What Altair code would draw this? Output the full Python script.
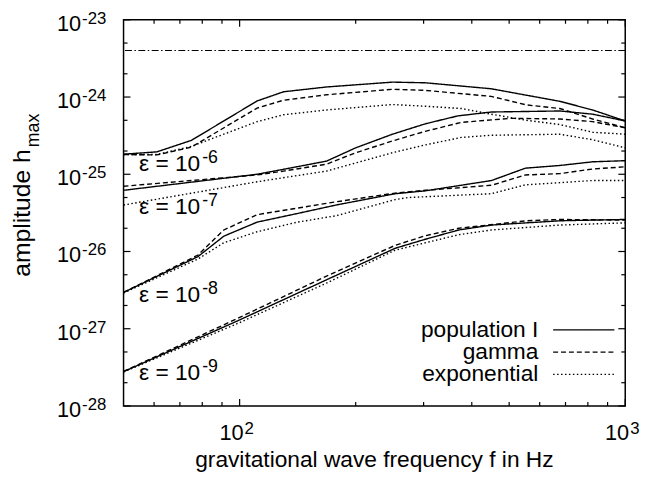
import altair as alt
import pandas as pd

# ---------------- data ----------------
models = ["population I", "gamma", "exponential"]

# epsilon = 1e-6
f_e6_pop = [50, 61, 75, 111, 130, 168, 249, 303, 449, 677, 823, 1000]
h_e6_pop = [1.82e-25, 1.95e-25, 2.75e-25, 8.9e-25, 1.17e-24, 1.35e-24, 1.56e-24, 1.53e-24, 1.28e-24, 8.8e-25, 6.8e-25, 4.9e-25]
f_e6_gam = [50, 61, 75, 111, 130, 168, 249, 303, 449, 555, 677, 823, 1000]
h_e6_gam = [1.8e-25, 1.78e-25, 2.25e-25, 7.2e-25, 9.1e-25, 1.07e-24, 1.26e-24, 1.22e-24, 1.02e-24, 7.9e-25, 7.1e-25, 5.2e-25, 4.0e-25]
f_e6_exp = [50, 61, 75, 111, 130, 168, 249, 303, 376, 449, 555, 677, 823, 1000]
h_e6_exp = [1.8e-25, 1.8e-25, 2.3e-25, 4.8e-25, 5.9e-25, 6.8e-25, 8.0e-25, 7.6e-25, 7.1e-25, 6.0e-25, 5.0e-25, 4.4e-25, 3.5e-25, 3.3e-25]

# epsilon = 1e-7
f_e7_pop = [50, 111, 130, 168, 200, 249, 303, 368, 449, 677, 823, 1000]
h_e7_pop = [6.2e-26, 1.0e-25, 1.16e-25, 1.48e-25, 2.2e-25, 3.3e-25, 4.5e-25, 5.7e-25, 6.4e-25, 6.6e-25, 6.0e-25, 4.9e-25]
f_e7_gam = [50, 111, 130, 168, 200, 249, 303, 376, 505, 677, 823, 1000]
h_e7_gam = [7.0e-26, 9.8e-26, 1.1e-25, 1.35e-25, 1.9e-25, 2.7e-25, 3.6e-25, 4.7e-25, 5.3e-25, 5.2e-25, 4.8e-25, 4.0e-25]
f_e7_exp = [50, 111, 168, 249, 303, 376, 449, 677, 823, 1000]
h_e7_exp = [4.0e-26, 8.0e-26, 1.1e-25, 1.9e-25, 2.4e-25, 3.0e-25, 3.2e-25, 3.3e-25, 2.8e-25, 2.2e-25]

# epsilon = 1e-8
f_e8_pop = [50, 78, 91, 111, 141, 178, 253, 303, 450, 551, 677, 823, 1000]
h_e8_pop = [2.95e-27, 8.6e-27, 1.58e-26, 2.4e-26, 3.1e-26, 4.0e-26, 5.6e-26, 6.1e-26, 8.3e-26, 1.2e-25, 1.3e-25, 1.45e-25, 1.5e-25]
f_e8_gam = [50, 78, 91, 111, 178, 253, 303, 450, 551, 677, 823, 1000]
h_e8_gam = [2.95e-27, 9.0e-27, 1.9e-26, 3.0e-26, 4.4e-26, 5.7e-26, 6.2e-26, 7.2e-26, 9.8e-26, 1.02e-25, 1.17e-25, 1.25e-25]
f_e8_exp = [50, 78, 91, 111, 141, 178, 253, 274, 450, 551, 823, 1000]
h_e8_exp = [2.9e-27, 8.0e-27, 1.3e-26, 1.8e-26, 2.4e-26, 2.9e-26, 4.7e-26, 5.0e-26, 5.6e-26, 7.3e-26, 8.3e-26, 8.3e-26]

# epsilon = 1e-9
f_e9_pop = [50, 100, 168, 253, 303, 370, 450, 677, 1000]
h_e9_pop = [2.78e-28, 1.3e-27, 4.3e-27, 1.1e-26, 1.44e-26, 1.9e-26, 2.2e-26, 2.5e-26, 2.6e-26]
f_e9_gam = [50, 100, 168, 253, 303, 370, 555, 677, 1000]
h_e9_gam = [2.8e-28, 1.4e-27, 4.8e-27, 1.2e-26, 1.6e-26, 2.0e-26, 2.5e-26, 2.6e-26, 2.55e-26]
f_e9_exp = [50, 100, 168, 253, 370, 450, 677, 1000]
h_e9_exp = [2.75e-28, 1.2e-27, 3.9e-27, 1.04e-26, 1.65e-26, 1.9e-26, 2.2e-26, 2.35e-26]

# horizontal dash-dot limit
h_limit = [4.0e-24]

# epsilon labels (data-space anchors)
eps_exponents = ["-6", "-7", "-8", "-9"]
eps_label_f = [79.5, 79.5, 79.5, 79.5]
eps_label_h = [1.1e-25, 3.1e-26, 2.2e-27, 2.15e-28]

# axis ticks
x_major = [100, 1000]
x_minor = [60, 70, 80, 90, 200, 300, 400, 500, 600, 700, 800, 900]
x_label_vals = [100, 1000]
x_label_exp = ["2", "3"]
y_major = [1e-28, 1e-27, 1e-26, 1e-25, 1e-24, 1e-23]
y_major_exp = ["-28", "-27", "-26", "-25", "-24", "-23"]
y_minor = [2e-28, 5e-28, 2e-27, 5e-27, 2e-26, 5e-26, 2e-25, 5e-25, 2e-24, 5e-24]

# ---------------- build tables ----------------
series = [
    ("1e-6", "population I", f_e6_pop, h_e6_pop),
    ("1e-6", "gamma", f_e6_gam, h_e6_gam),
    ("1e-6", "exponential", f_e6_exp, h_e6_exp),
    ("1e-7", "population I", f_e7_pop, h_e7_pop),
    ("1e-7", "gamma", f_e7_gam, h_e7_gam),
    ("1e-7", "exponential", f_e7_exp, h_e7_exp),
    ("1e-8", "population I", f_e8_pop, h_e8_pop),
    ("1e-8", "gamma", f_e8_gam, h_e8_gam),
    ("1e-8", "exponential", f_e8_exp, h_e8_exp),
    ("1e-9", "population I", f_e9_pop, h_e9_pop),
    ("1e-9", "gamma", f_e9_gam, h_e9_gam),
    ("1e-9", "exponential", f_e9_exp, h_e9_exp),
]
rows = []
for eps, model, fs, hs in series:
    for f, h in zip(fs, hs):
        rows.append({"f": f, "h": h, "eps": eps, "model": model, "key": eps + " " + model})
df = pd.DataFrame(rows)

W, H = 508, 391
FONT = "Liberation Sans"
xs = alt.Scale(type="log", domain=[50, 1000], nice=False)
ys = alt.Scale(type="log", domain=[1e-28, 1e-23], nice=False)
X = alt.X("f:Q", scale=xs, axis=None)
Y = alt.Y("h:Q", scale=ys, axis=None)
dash_ranges = [[1, 0], [5, 3], [1.5, 2.5]]

lines = alt.Chart(df).mark_line(color="black", strokeWidth=1.4).encode(
    x=X, y=Y, detail="key:N", order="f:Q",
    strokeDash=alt.StrokeDash("model:N", scale=alt.Scale(domain=models, range=dash_ranges), legend=None),
)

limit = alt.Chart(pd.DataFrame({"h": h_limit})).mark_rule(
    color="black", strokeWidth=1.1, strokeDash=[7, 2.5, 1.5, 2.5]
).encode(y=Y)

# ticks
dfx_maj = pd.DataFrame({"f": x_major})
dfx_min = pd.DataFrame({"f": x_minor})
dfy_maj = pd.DataFrame({"h": y_major, "exp": y_major_exp})
dfy_min = pd.DataFrame({"h": y_minor})
tick_layers = []
for d, L in [(dfx_maj, 7), (dfx_min, 4)]:
    tick_layers.append(alt.Chart(d).mark_rule(color="black", strokeWidth=1.2).encode(x=X, y=alt.value(H), y2=alt.value(H - L)))
    tick_layers.append(alt.Chart(d).mark_rule(color="black", strokeWidth=1.2).encode(x=X, y=alt.value(0), y2=alt.value(L)))
for d, L in [(dfy_maj, 7), (dfy_min, 4)]:
    tick_layers.append(alt.Chart(d).mark_rule(color="black", strokeWidth=1.2).encode(y=Y, x=alt.value(0), x2=alt.value(L)))
    tick_layers.append(alt.Chart(d).mark_rule(color="black", strokeWidth=1.2).encode(y=Y, x=alt.value(W), x2=alt.value(W - L)))

# axis labels
ylab_main = alt.Chart(dfy_maj).mark_text(font=FONT, fontSize=22, align="right", baseline="alphabetic", dy=11, color="black").encode(
    y=Y, x=alt.value(-43), text=alt.value("10"))
ylab_sup = alt.Chart(dfy_maj).mark_text(font=FONT, fontSize=17, align="left", baseline="alphabetic", dy=4, color="black").encode(
    y=Y, x=alt.value(-42), text="exp:N")
dfx_lab = pd.DataFrame({"f": x_label_vals, "exp": x_label_exp})
xlab_main = alt.Chart(dfx_lab).mark_text(font=FONT, fontSize=22, align="right", baseline="alphabetic", dx=4, color="black").encode(
    x=X, y=alt.value(425), text=alt.value("10"))
xlab_sup = alt.Chart(dfx_lab).mark_text(font=FONT, fontSize=17, align="left", baseline="alphabetic", dx=5, color="black").encode(
    x=X, y=alt.value(419), text="exp:N")

# epsilon labels
df_eps = pd.DataFrame({"f": eps_label_f, "h": eps_label_h, "exp": eps_exponents})
eps_main = alt.Chart(df_eps).mark_text(font=FONT, fontSize=23, align="right", baseline="alphabetic", dx=-1, color="black").encode(
    x=X, y=Y, text=alt.value("ε = 10"))
eps_sup = alt.Chart(df_eps).mark_text(font=FONT, fontSize=18, align="left", baseline="alphabetic", dx=1, dy=-8, color="black").encode(
    x=X, y=Y, text="exp:N")

# titles
xtitle = alt.Chart(pd.DataFrame({"t": ["gravitational wave frequency f in Hz"]})).mark_text(
    font=FONT, fontSize=23, align="center", baseline="alphabetic", color="black").encode(
    x=alt.value(W / 2), y=alt.value(453), text="t:N")
ytitle = alt.Chart(pd.DataFrame({"t": ["amplitude h"]})).mark_text(
    font=FONT, fontSize=25, align="right", baseline="alphabetic", angle=270, color="black").encode(
    x=alt.value(-95), y=alt.value(131), text="t:N")
ysub = alt.Chart(pd.DataFrame({"t": ["max"]})).mark_text(
    font=FONT, fontSize=18, align="left", baseline="alphabetic", angle=270, color="black").encode(
    x=alt.value(-86), y=alt.value(129), text="t:N")

# legend
leg_layers = []
leg_y = [314, 336.5, 359]
for name, dash, yy in zip(models, dash_ranges, leg_y):
    leg_layers.append(alt.Chart(pd.DataFrame({"t": [name]})).mark_text(
        font=FONT, fontSize=23, align="right", baseline="alphabetic", color="black").encode(
        x=alt.value(420), y=alt.value(yy + 7), text="t:N"))
    leg_layers.append(alt.Chart(pd.DataFrame({"t": [name]})).mark_rule(
        color="black", strokeWidth=1.4, strokeDash=dash).encode(
        x=alt.value(435), x2=alt.value(497), y=alt.value(yy)))

chart = alt.layer(
    limit, lines, *tick_layers, ylab_main, ylab_sup, xlab_main, xlab_sup,
    eps_main, eps_sup, xtitle, ytitle, ysub, *leg_layers
).properties(
    width=W, height=H,
    autosize=alt.AutoSizeParams(type="none"),
    padding={"left": 117, "top": 9, "right": 19, "bottom": 71},
).configure_view(stroke="black", strokeWidth=1.5)

chart.save("out.html", embed_options={"renderer": "svg", "actions": False})
